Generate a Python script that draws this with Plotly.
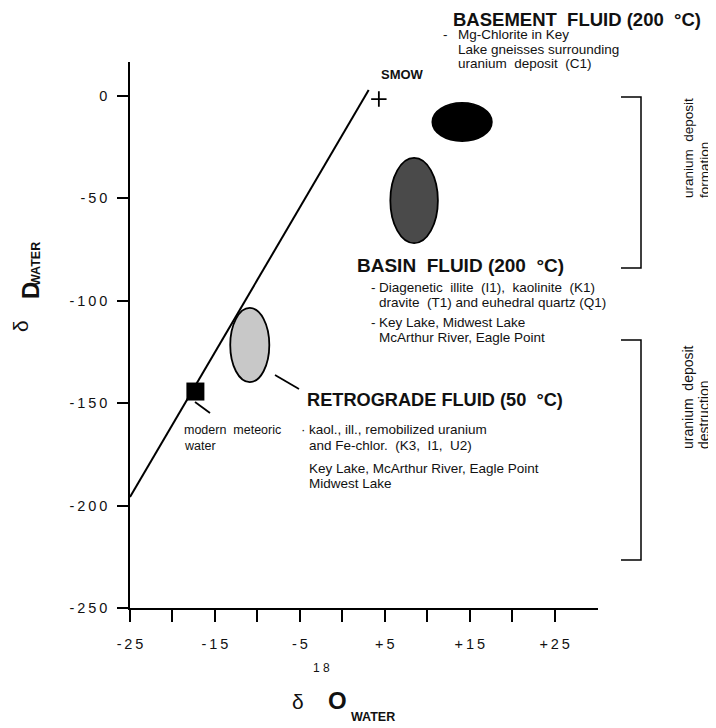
import plotly.graph_objects as go

# ---------------- data ----------------
# meteoric water line (end points)
mwl_d18o = [-25.0, 3.1]
mwl_dD = [-195.8, 2.9]

# SMOW reference point
smow_d18o = [4.3]
smow_dD = [-1.5]

# modern meteoric water
meteoric_d18o = [-17.3]
meteoric_dD = [-144.3]

# fluid fields (centre and half extent)
fluid_names = ["Basement fluid", "Basin fluid", "Retrograde fluid"]
fluid_d18o = [14.1, 8.45, -10.9]
fluid_dD = [-12.7, -51.0, -121.6]
fluid_d18o_half = [3.5, 2.8, 2.3]
fluid_dD_half = [9.3, 20.8, 18.1]
fluid_fill = ["#000000", "#4a4a4a", "#c8c8c8"]

x_tick_vals = [-25, -20, -15, -10, -5, 0, 5, 10, 15, 20, 25]
x_tick_labels = ["-25", "", "-15", "", "-5", "", "+5", "", "+15", "", "+25"]
y_tick_vals = [0, -50, -100, -150, -200, -250]
y_tick_labels = ["0", "-50", "-100", "-150", "-200", "-250"]

# ---------------- layout geometry ----------------
# the page body adds an 8 px margin, so the figure is 8 px smaller and
# every screen position below is given in page pixels (OFF subtracted)
OFF = 8
W, H = 716 - OFF, 728 - OFF
L, R, T, B = 130 - OFF, 118, 62 - OFF, 120
XR = [-25, 30.1]
YR = [-250, 16.6]
PW, PH = W - L - R, H - T - B
FONT = "Liberation Sans, Arial, sans-serif"


def xd(px):
    return XR[0] + (px - OFF - L) / PW * (XR[1] - XR[0])


def yd(py):
    return YR[1] - (py - OFF - T) / PH * (YR[1] - YR[0])


def xp(px):
    return (px - OFF - L) / PW


def yp(py):
    return 1 - (py - OFF - T) / PH


def spaced(s):
    return "\u2009".join(list(s))


fig = go.Figure()

# meteoric water line
fig.add_trace(go.Scatter(x=mwl_d18o, y=mwl_dD, mode="lines",
                         line=dict(color="black", width=2), hoverinfo="skip",
                         showlegend=False))

# SMOW
fig.add_trace(go.Scatter(x=smow_d18o, y=smow_dD, mode="markers",
                         marker=dict(symbol="cross-thin", size=11,
                                     line=dict(color="black", width=1.8)),
                         showlegend=False))

# modern meteoric water
fig.add_trace(go.Scatter(x=meteoric_d18o, y=meteoric_dD, mode="markers",
                         marker=dict(symbol="square", size=18, color="black"),
                         showlegend=False))

shapes = []
for cx, cy, hx, hy, col in zip(fluid_d18o, fluid_dD, fluid_d18o_half,
                               fluid_dD_half, fluid_fill):
    shapes.append(dict(type="circle", xref="x", yref="y",
                       x0=cx - hx, x1=cx + hx, y0=cy - hy, y1=cy + hy,
                       fillcolor=col, line=dict(color="black", width=1.8),
                       layer="above"))

# leader lines
shapes.append(dict(type="line", xref="x", yref="y",
                   x0=xd(195), y0=yd(402), x1=xd(210), y1=yd(413),
                   line=dict(color="black", width=1.8)))
shapes.append(dict(type="line", xref="x", yref="y",
                   x0=xd(275), y0=yd(375), x1=xd(299), y1=yd(389),
                   line=dict(color="black", width=1.8)))

# brackets on the right
for top, bot in [(97, 268), (340, 560)]:
    shapes.append(dict(type="path", xref="paper", yref="paper",
                       path=f"M {xp(621)},{yp(top)} L {xp(641)},{yp(top)} "
                            f"L {xp(641)},{yp(bot)} L {xp(621)},{yp(bot)}",
                       line=dict(color="black", width=1.5)))

ann = []


def lab(text, px, py, size=13, anchor="left", angle=0, yanchor="middle"):
    ann.append(dict(text=text, x=xp(px), y=yp(py), xref="paper", yref="paper",
                    xanchor=anchor, yanchor=yanchor, showarrow=False,
                    textangle=angle, align="left",
                    font=dict(family=FONT, size=size, color="#111")))


BODY = 13.5

# basement fluid
lab("<b>BASEMENT  FLUID (200  °C)</b>", 451, 19, 18.5)
lab("-", 441, 35, 13.5)
lab("Mg-Chlorite in Key", 456, 35, 13.5)
lab("Lake gneisses surrounding", 456, 49, 13.5)
lab("uranium  deposit  (C1)", 456, 63, 13.5)
lab("<b>SMOW</b>", 402, 74, 13, anchor="center")

# basin fluid
lab("<b>BASIN  FLUID (200  °C)</b>", 355, 265, 19)
lab("-", 369, 287, BODY)
lab("Diagenetic  illite  (I1),  kaolinite  (K1)", 377, 287, BODY)
lab("dravite  (T1) and euhedral quartz (Q1)", 377, 302, BODY)
lab("-", 369, 322, BODY)
lab("Key Lake, Midwest Lake", 377, 322, BODY)
lab("McArthur River, Eagle Point", 377, 337, BODY)

# retrograde fluid
lab("<b>RETROGRADE FLUID (50  °C)</b>", 305, 400, 18.2)
lab("·", 299, 429, BODY)
lab("kaol., ill., remobilized uranium", 307, 429, BODY)
lab("and Fe-chlor.  (K3,  I1,  U2)", 307, 445, BODY)
lab("Key Lake, McArthur River, Eagle Point", 307, 468, BODY)
lab("Midwest Lake", 307, 483, BODY)

# modern meteoric water
lab("modern  meteoric", 182, 430, 12.5)
lab("water", 182, 446, 12.5)

# bracket texts (rotated, each line starts at the bottom)
lab("uranium  deposit", 688, 200, 13.5, anchor="center", angle=-90, yanchor="bottom")
lab("formation", 704, 200, 13.5, anchor="center", angle=-90, yanchor="bottom")
lab("uranium  deposit", 688, 451, 14, anchor="center", angle=-90, yanchor="bottom")
lab("destruction", 704, 451, 14, anchor="center", angle=-90, yanchor="bottom")

# y axis title
lab("δ", 20, 326, 21, anchor="center", angle=-90)
lab("<b>D</b>", 30, 291, 24, anchor="center", angle=-90)
lab("<b>WATER</b>", 36, 264, 12.5, anchor="center", angle=-90)

# x axis title
lab("δ", 298, 701, 21, anchor="center")
lab("1 8", 321, 668, 12, anchor="center")
lab("<b>O</b>", 337, 700, 24, anchor="center")
lab("<b>WATER</b>", 373, 717, 12.5, anchor="center")

fig.update_layout(
    width=W, height=H,
    margin=dict(l=L, r=R, t=T, b=B),
    paper_bgcolor="white", plot_bgcolor="white",
    shapes=shapes, annotations=ann,
    showlegend=False,
    font=dict(family=FONT, size=14, color="#111"),
)

fig.update_xaxes(range=XR, showline=True, linecolor="black", linewidth=1.6,
                 ticks="outside", ticklen=12, tickwidth=1.6, tickcolor="black",
                 tickvals=x_tick_vals, ticktext=[spaced(t) for t in x_tick_labels],
                 showgrid=False, zeroline=False, ticklabelstandoff=10,
                 tickfont=dict(family=FONT, size=14.5, color="#111"))
fig.update_yaxes(range=YR, showline=True, linecolor="black", linewidth=1.6,
                 ticks="outside", ticklen=11, tickwidth=1.6, tickcolor="black",
                 tickvals=y_tick_vals, ticktext=[spaced(t) for t in y_tick_labels],
                 showgrid=False, zeroline=False, ticklabelstandoff=7,
                 tickfont=dict(family=FONT, size=14.5, color="#111"))

fig.write_html("out.html")
